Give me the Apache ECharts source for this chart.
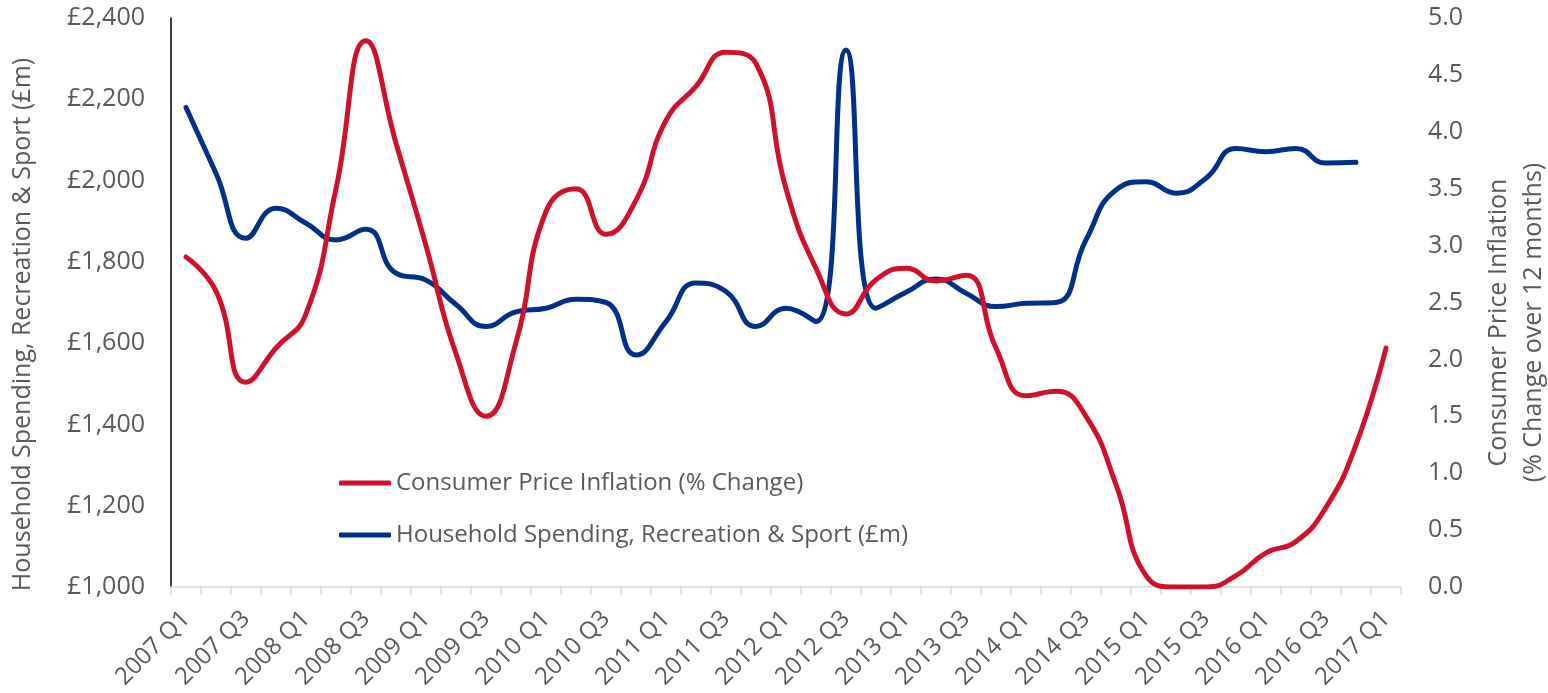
<!DOCTYPE html>
<html>
<head>
<meta charset="utf-8">
<script src="https://cdn.jsdelivr.net/npm/echarts@6/dist/echarts.min.js"></script>
<style>
  html, body { margin: 0; padding: 0; background: #ffffff; }
  #chart { width: 1548px; height: 693px; }
</style>
</head>
<body>
<div id="chart"></div>
<script>
var quarters = [
  '2007 Q1','2007 Q2','2007 Q3','2007 Q4',
  '2008 Q1','2008 Q2','2008 Q3','2008 Q4',
  '2009 Q1','2009 Q2','2009 Q3','2009 Q4',
  '2010 Q1','2010 Q2','2010 Q3','2010 Q4',
  '2011 Q1','2011 Q2','2011 Q3','2011 Q4',
  '2012 Q1','2012 Q2','2012 Q3','2012 Q4',
  '2013 Q1','2013 Q2','2013 Q3','2013 Q4',
  '2014 Q1','2014 Q2','2014 Q3','2014 Q4',
  '2015 Q1','2015 Q2','2015 Q3','2015 Q4',
  '2016 Q1','2016 Q2','2016 Q3','2016 Q4',
  '2017 Q1'
];
var cpiName = 'Consumer Price Inflation (% Change)';
var spendName = 'Household Spending, Recreation & Sport (\u00a3m)';
var cpiValues = [
  2.9, 2.6, 1.8, 2.1, 2.4, 3.5, 4.8, 3.9, 3.0, 2.05,
  1.5, 2.15, 3.3, 3.5, 3.1, 3.4, 4.1, 4.4, 4.7, 4.6,
  3.5, 2.8, 2.4, 2.7, 2.8, 2.69, 2.74, 2.1, 1.68, 1.72,
  1.5, 0.9, 0.1, 0.0, 0.0, 0.1, 0.3, 0.4, 0.7, 1.25,
  2.1
];
var spendValues = [
  2180, 2018, 1858, 1932, 1895, 1854, 1880, 1772, 1755, 1695,
  1641, 1677, 1686, 1708, 1700, 1571, 1653, 1748, 1727, 1641,
  1686, 1653, 2321, 1686, 1725, 1758, 1723, 1690, 1698, 1700,
  1854, 1977, 1997, 1969, 2006, 2079, 2071, 2079, 2043, 2045,
  null
];
var leftAxisTitle = 'Household Spending, Recreation & Sport (\u00a3m)';
var rightAxisTitle = 'Consumer Price Inflation\n(% Change over 12 months)';

var FONT = 'Open Sans';
var TXT = '#595959';
var RED = '#D0112B';
var BLUE = '#003087';

var chart = echarts.init(document.getElementById('chart'), null, { renderer: 'canvas' });
chart.setOption({
  backgroundColor: '#ffffff',
  animation: false,
  textStyle: { fontFamily: FONT },
  grid: { left: 171, right: 147, top: 18, bottom: 106, containLabel: false, outerBoundsMode: 'none' },
  legend: {
    data: [cpiName, spendName],
    orient: 'vertical',
    left: 334,
    top: 466,
    icon: 'roundRect',
    itemWidth: 52,
    itemHeight: 5,
    itemGap: 28,
    textStyle: { fontFamily: FONT, fontSize: 24, color: TXT }
  },
  xAxis: {
    type: 'category',
    data: quarters,
    boundaryGap: true,
    axisLine: { show: true, lineStyle: { color: '#d9d9d9', width: 1.5 } },
    axisTick: { show: true, interval: 0, length: 8, lineStyle: { color: '#d9d9d9', width: 1.5 } },
    axisLabel: { interval: 1, rotate: 45, margin: 28, fontFamily: FONT, fontSize: 24, color: TXT },
    splitLine: { show: false }
  },
  yAxis: [
    {
      type: 'value',
      min: 1000, max: 2400, interval: 200,
      position: 'left',
      axisLine: { show: true, lineStyle: { color: '#000000', width: 1.5 } },
      axisTick: { show: false },
      splitLine: { show: false },
      axisLabel: {
        margin: 26, fontFamily: FONT, fontSize: 25, color: TXT,
        formatter: function (v) { return '\u00a3' + v.toLocaleString('en-GB'); }
      },
      name: leftAxisTitle,
      nameLocation: 'middle',
      nameRotate: 90,
      nameGap: 136,
      nameTextStyle: { fontFamily: FONT, fontSize: 25, color: TXT, padding: [0, 44, 0, 0] }
    },
    {
      type: 'value',
      min: 0, max: 5, interval: 0.5,
      position: 'right',
      axisLine: { show: false },
      axisTick: { show: false },
      splitLine: { show: false },
      axisLabel: {
        margin: 27, fontFamily: FONT, fontSize: 25, color: TXT,
        formatter: function (v) { return v.toFixed(1); }
      },
      name: rightAxisTitle,
      nameLocation: 'middle',
      nameRotate: 90,
      nameGap: 80,
      nameTextStyle: { fontFamily: FONT, fontSize: 25, color: TXT, lineHeight: 35, align: 'center', padding: [0, 40, 0, 0] }
    }
  ],
  series: [
    {
      name: spendName,
      type: 'line',
      yAxisIndex: 0,
      data: spendValues,
      smooth: 0.5,
      symbol: 'none',
      connectNulls: false,
      lineStyle: { color: BLUE, width: 5, cap: 'round', join: 'round' },
      itemStyle: { color: BLUE },
      z: 2
    },
    {
      name: cpiName,
      type: 'line',
      yAxisIndex: 1,
      data: cpiValues,
      smooth: 0.5,
      symbol: 'none',
      lineStyle: { color: RED, width: 5, cap: 'round', join: 'round' },
      itemStyle: { color: RED },
      z: 3
    }
  ]
});
</script>
</body>
</html>
